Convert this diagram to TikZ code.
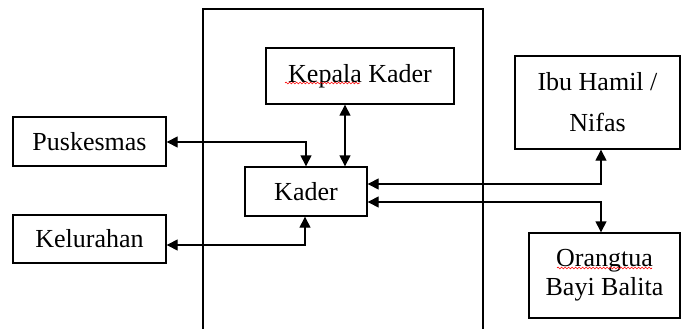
\documentclass[tikz,border=0pt]{standalone}
\usepackage{fontspec}
\setmainfont{Liberation Serif}
\usetikzlibrary{arrows.meta,decorations.pathmorphing}
\begin{document}
\begin{tikzpicture}[x=1pt,y=-1pt,
  box/.style={draw,line width=1.4pt,inner sep=0pt,font=\fontsize{26}{30}\selectfont},
  link/.style={line width=1.4pt,{Triangle[length=11pt,width=11pt]}-{Triangle[length=11pt,width=11pt]}},
  spell/.style={red,line width=0.6pt,decorate,decoration={snake,amplitude=0.9pt,segment length=3.5pt}}]
\useasboundingbox (0,0) rectangle (681,329);
\fill[white] (0,0) rectangle (681,329);
% frame
\draw[line width=1.4pt] (203,335) -- (203,9) -- (483,9) -- (483,335);
% boxes
\node[box,minimum width=188pt,minimum height=56pt] (kepala) at (360,76) {Kepala Kader};
\node[box,minimum width=153pt,minimum height=49pt] (pusk) at (89.5,141.5) {Puskesmas};
\node[box,minimum width=153pt,minimum height=48pt] (kel) at (89.5,239) {Kelurahan};
\node[box,minimum width=122pt,minimum height=49pt] (kader) at (306,191.5) {Kader};
\node[box,minimum width=165pt,minimum height=93pt,align=center,font=\fontsize{26}{41}\selectfont] (ibu) at (597.5,102.5) {Ibu Hamil /\\Nifas};
\node[box,minimum width=151pt,minimum height=85pt,align=center,font=\fontsize{26}{29}\selectfont] (orang) at (604.5,275.5) {Orangtua\\Bayi Balita};
% helper coordinates
\coordinate (kk) at (345,0);
\coordinate (vx) at (601,0);
% connectors
\draw[link] ([yshift=-0.5pt]pusk.east) -| (kader.north);
\draw[link] ([yshift=-6pt]kel.east) -| ([xshift=-1pt]kader.south);
\draw[link] (kepala.south -| kk) -- (kader.north -| kk);
\draw[link] ([yshift=7.5pt]kader.east) -| (ibu.south -| vx);
\draw[link] ([yshift=-10.5pt]kader.east) -| (orang.north -| vx);
% spell-check marks
\coordinate (s1a) at (285,83); \coordinate (s1b) at (360,83);
\coordinate (s2a) at (557,268); \coordinate (s2b) at (652,268);
\draw[spell] (s1a) -- (s1b);
\draw[spell] (s2a) -- (s2b);
\end{tikzpicture}
\end{document}
